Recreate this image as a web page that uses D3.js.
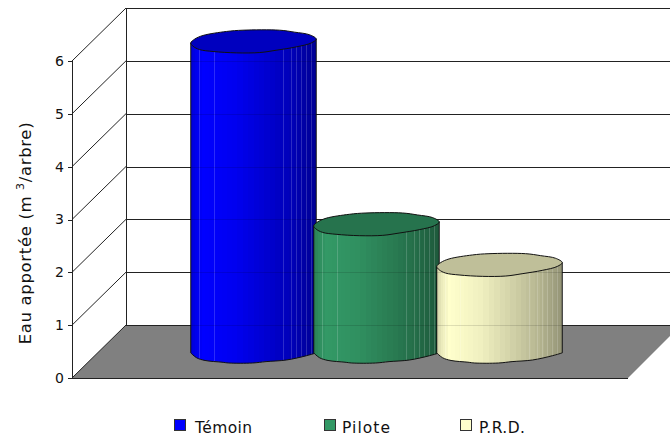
<!DOCTYPE html>
<html>
<head>
<meta charset="utf-8">
<script src="https://cdn.jsdelivr.net/npm/d3@7"></script>
<style>
html,body{margin:0;padding:0;background:#fff}
svg{display:block}
text{font-family:"DejaVu Sans",sans-serif;fill:#111}
</style>
</head>
<body>
<svg id="chart" width="670" height="437"></svg>
<script>
// Water supplied per tree, one cylinder per irrigation treatment
const seriesNames = ["Témoin", "Pilote", "P.R.D."];
const seriesValues = [5.87, 2.41, 1.64];
const seriesColors = ["#0000ff", "#339966", "#ffffcc"];
const yTicks = [0, 1, 2, 3, 4, 5, 6];
const yTitle = "Eau apportée (m ";
const yTitleSup = "3";
const yTitleEnd = "/arbre)";

// Hand-traced outline of a cap and of the lower rim, in unit box coordinates
const capOutline = [[0,.57],[.032,.4],[.098,.243],[.284,.07],[.416,.014],[.708,.014],[.828,.1],[.947,.214],[1,.4],[.96,.57],[.84,.74],[.68,.886],[.55,.986],[.363,1],[.178,.94],[.07,.857],[.019,.714]];
const rimOutline = [[0,.56],[.046,.77],[.114,.89],[.249,.965],[.303,1],[.492,1],[.6,.94],[.762,.87],[.924,.68],[1,.56]];
const seamPositions = [.066,.186,.735,.80,.84,.88,.92,.96];
const shadeStops = [[0,.82],[.04,.92],[.1,1],[.35,.94],[.6,.82],[.8,.72],[1,.58]];

const svg = d3.select("#chart");
const y = d3.scaleLinear().domain([0, 6]).range([378, 61]);
const x = d3.scaleBand().domain(seriesNames).range([192, 561]);

const depthX = 54, depthY = 53;           // oblique offset of the back wall
const leftX = 72, floorFrontRight = 628, floorBackRight = 681;
const radiusX = 62.75, capH = 23;
const stroke = "#222";
const px = v => Math.round(v) + .5;

// Floor
svg.append("path")
  .attr("d", d3.line()([[leftX, y(0)], [leftX + depthX, y(0) - depthY], [floorBackRight, y(0) - depthY], [floorFrontRight, y(0)]]) + "Z")
  .attr("fill", "#808080");

// Walls: grid lines across the back, slanted lines on the side
const grid = svg.append("g").attr("fill", "none").attr("stroke", stroke).attr("stroke-width", 1);
yTicks.forEach(t => {
  const yf = y(t), yb = yf - depthY;
  grid.append("line").attr("x1", leftX + depthX).attr("x2", 670)
    .attr("y1", px(yb)).attr("y2", px(yb)).attr("shape-rendering", "crispEdges");
  grid.append("line").attr("x1", leftX).attr("y1", yf).attr("x2", leftX + depthX).attr("y2", yb);
});
grid.append("line").attr("x1", px(leftX + depthX)).attr("x2", px(leftX + depthX))
  .attr("y1", y(6) - depthY).attr("y2", y(0) - depthY).attr("shape-rendering", "crispEdges");
grid.append("line").attr("x1", leftX).attr("x2", floorFrontRight)
  .attr("y1", px(y(0))).attr("y2", px(y(0))).attr("shape-rendering", "crispEdges");

// Value axis
const axis = svg.append("g")
  .attr("transform", `translate(${leftX},0)`)
  .call(d3.axisLeft(y).tickValues(yTicks).tickFormat(d3.format("d")).tickSize(4).tickPadding(4));
axis.selectAll("line,path").attr("stroke", stroke).attr("shape-rendering", "crispEdges");
axis.selectAll("text").attr("font-size", 14).attr("font-family", '"DejaVu Sans",sans-serif').attr("fill", "#111");

// Axis title
const title = svg.append("text").attr("transform", "translate(31,233) rotate(-90)")
  .attr("text-anchor", "middle").attr("font-size", 16.5).attr("letter-spacing", .65);
title.append("tspan").text(yTitle);
title.append("tspan").attr("font-size", 11).attr("dy", -7).text(yTitleSup);
title.append("tspan").attr("dy", 7).text(yTitleEnd);

// Cylinders, drawn left to right so each one overlaps the previous
const capLine = d3.line().curve(d3.curveCatmullRomClosed.alpha(.5));
const rimLine = d3.line().curve(d3.curveCatmullRom.alpha(.5));
const shade = d3.scaleLinear().domain(shadeStops.map(d => d[0])).range(shadeStops.map(d => d[1]));
const tint = (color, k) => { const c = d3.rgb(color); return d3.rgb(c.r * k, c.g * k, c.b * k).formatHex(); };

seriesNames.forEach((name, i) => {
  const cx = x(name) + x.bandwidth() / 2;
  const x0 = cx - radiusX, w = radiusX * 2;
  const topY = y(seriesValues[i]) - depthY / 2 - capH / 2;
  const baseY = y(0) - depthY / 2 - capH / 2;
  const capPts = capOutline.map(p => [x0 + p[0] * w, topY + p[1] * capH]);
  const rimPts = rimOutline.map(p => [x0 + p[0] * w, baseY + p[1] * capH]);

  const sidePath = "M" + capPts[0] + "L" + rimLine(rimPts).slice(1) + "L" + capPts[8] + "Z";
  const g = svg.append("g");
  const clipId = "side" + i;
  g.append("clipPath").attr("id", clipId).append("path").attr("d", sidePath);
  const side = g.append("g").attr("clip-path", `url(#${clipId})`);

  // Facets narrow towards the silhouette, as on a real cylinder
  const facets = 36;
  d3.range(facets).forEach(k => {
    const a = Math.round(cx - radiusX * Math.cos(k * Math.PI / facets));
    const b = Math.round(cx - radiusX * Math.cos((k + 1) * Math.PI / facets));
    if (b <= a) return;
    side.append("rect").attr("x", a).attr("width", b - a)
      .attr("y", topY - 2).attr("height", baseY - topY + capH + 4)
      .attr("fill", tint(seriesColors[i], shade(((a + b) / 2 - x0) / w)))
      .attr("shape-rendering", "crispEdges");
  });
  seamPositions.forEach(u => {
    side.append("rect").attr("x", Math.round(x0 + u * w)).attr("width", 1)
      .attr("y", topY - 2).attr("height", baseY - topY + capH + 4)
      .attr("fill", "#fff").attr("opacity", .17).attr("shape-rendering", "crispEdges");
  });
  // Grid lines remain faintly visible through the cylinder
  yTicks.forEach(t => {
    side.append("line").attr("x1", x0).attr("x2", x0 + w)
      .attr("y1", px(y(t) - depthY)).attr("y2", px(y(t) - depthY))
      .attr("stroke", "#000").attr("opacity", .12).attr("shape-rendering", "crispEdges");
  });

  g.append("path").attr("d", sidePath).attr("fill", "none").attr("stroke", "#111").attr("stroke-width", 1);
  g.append("path").attr("d", capLine(capPts) + "Z")
    .attr("fill", tint(seriesColors[i], .75)).attr("stroke", "#111").attr("stroke-width", 1);
});

// Legend
const legendSwatchX = [174, 324, 460];
const legendTextX = [195, 342, 479];
const legendTextW = [57, 48, 46];
const legend = svg.append("g");
seriesNames.forEach((name, i) => {
  legend.append("rect").attr("x", legendSwatchX[i] + .5).attr("y", 419.5).attr("width", 11).attr("height", 11)
    .attr("fill", seriesColors[i]).attr("stroke", "#333").attr("shape-rendering", "crispEdges");
  legend.append("text").attr("x", legendTextX[i]).attr("y", 433)
    .attr("font-size", 15.5).attr("textLength", legendTextW[i]).attr("lengthAdjust", "spacing").text(name);
});
</script>
</body>
</html>
